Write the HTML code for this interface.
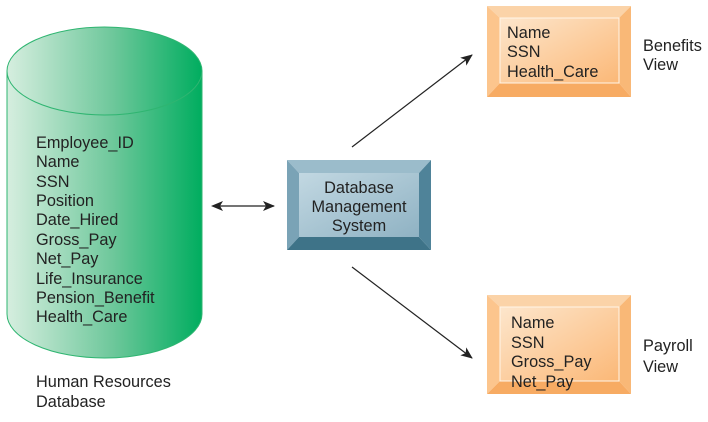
<!DOCTYPE html>
<html><head><style>
body{margin:0;background:#fff;}
svg text{font-family:"Liberation Sans",Arial,sans-serif;font-size:16.3px;fill:#222;}
</style></head><body>
<svg width="708" height="417" viewBox="0 0 708 417" xmlns="http://www.w3.org/2000/svg">
<defs>
<linearGradient id="g" x1="0" x2="1" y1="0" y2="0">
<stop offset="0" stop-color="#d6eedf"/><stop offset="0.55" stop-color="#6cc79a"/><stop offset="1" stop-color="#00ad5f"/>
</linearGradient>
<linearGradient id="o" x1="0" x2="1" y1="0" y2="1">
<stop offset="0" stop-color="#fde6cc"/><stop offset="1" stop-color="#fbb877"/>
</linearGradient>
<linearGradient id="b" x1="0" x2="1" y1="0" y2="1">
<stop offset="0" stop-color="#c2d8e2"/><stop offset="1" stop-color="#8fb2c3"/>
</linearGradient>
<marker id="ah" markerWidth="12" markerHeight="10" refX="11" refY="5" orient="auto" markerUnits="userSpaceOnUse">
<path d="M0,0 L12,5 L0,10 L3,5z" fill="#222"/></marker>
</defs>
<path d="M7,71 L7,314 A97.5,44 0 0 0 202,314 L202,71 Z" fill="url(#g)" stroke="#2fb571" stroke-width="1"/>
<ellipse cx="104.5" cy="71" rx="97.5" ry="44" fill="url(#g)" stroke="#2fb571" stroke-width="1"/>
<g>
<text x="36" y="148">Employee_ID</text>
<text x="36" y="167">Name</text>
<text x="36" y="187">SSN</text>
<text x="36" y="206">Position</text>
<text x="36" y="225">Date_Hired</text>
<text x="36" y="245">Gross_Pay</text>
<text x="36" y="264">Net_Pay</text>
<text x="36" y="284">Life_Insurance</text>
<text x="36" y="303">Pension_Benefit</text>
<text x="36" y="322">Health_Care</text>
<text x="36" y="387">Human Resources</text>
<text x="36" y="407">Database</text>
</g>
<polygon points="287,160 431,160 419,173 299,173" fill="#9bbccb"/>
<polygon points="287,160 299,173 299,237 287,250" fill="#7aa3b6"/>
<polygon points="431,160 431,250 419,237 419,173" fill="#4f8399"/>
<polygon points="287,250 299,237 419,237 431,250" fill="#3e7388"/>
<rect x="299" y="173" width="120" height="64" fill="url(#b)"/>
<text x="359" y="193" text-anchor="middle">Database</text>
<text x="359" y="212" text-anchor="middle">Management</text>
<text x="359" y="231" text-anchor="middle">System</text>
<polygon points="487,6 631,6 619,18 500,18" fill="#fbd3a8"/>
<polygon points="487,6 500,18 500,83 487,97" fill="#fcc58d"/>
<polygon points="631,6 631,97 619,83 619,18" fill="#f9b877"/>
<polygon points="487,97 500,83 619,83 631,97" fill="#f7ab63"/>
<rect x="500" y="18" width="119" height="65" fill="url(#o)" stroke="#fff5e8" stroke-width="1"/>
<text x="507" y="38">Name</text>
<text x="507" y="57">SSN</text>
<text x="507" y="77">Health_Care</text>
<text x="643" y="51">Benefits</text>
<text x="643" y="70">View</text>
<polygon points="487,295 631,295 619,307 500,307" fill="#fbd3a8"/>
<polygon points="487,295 500,307 500,381 487,394" fill="#fcc58d"/>
<polygon points="631,295 631,394 619,381 619,307" fill="#f9b877"/>
<polygon points="487,394 500,381 619,381 631,394" fill="#f7ab63"/>
<rect x="500" y="307" width="119" height="74" fill="url(#o)" stroke="#fff5e8" stroke-width="1"/>
<text x="511" y="328">Name</text>
<text x="511" y="348">SSN</text>
<text x="511" y="367">Gross_Pay</text>
<text x="511" y="387">Net_Pay</text>
<text x="643" y="351">Payroll</text>
<text x="643" y="372">View</text>
<line x1="216" y1="206" x2="274" y2="206" stroke="#222" stroke-width="1.2" marker-end="url(#ah)"/>
<path d="M211,206 L223,201 L220,206 L223,211z" fill="#222"/>
<line x1="352" y1="147" x2="472" y2="55" stroke="#222" stroke-width="1.2" marker-end="url(#ah)"/>
<line x1="352" y1="267" x2="472" y2="358" stroke="#222" stroke-width="1.2" marker-end="url(#ah)"/>
</svg>
</body></html>
